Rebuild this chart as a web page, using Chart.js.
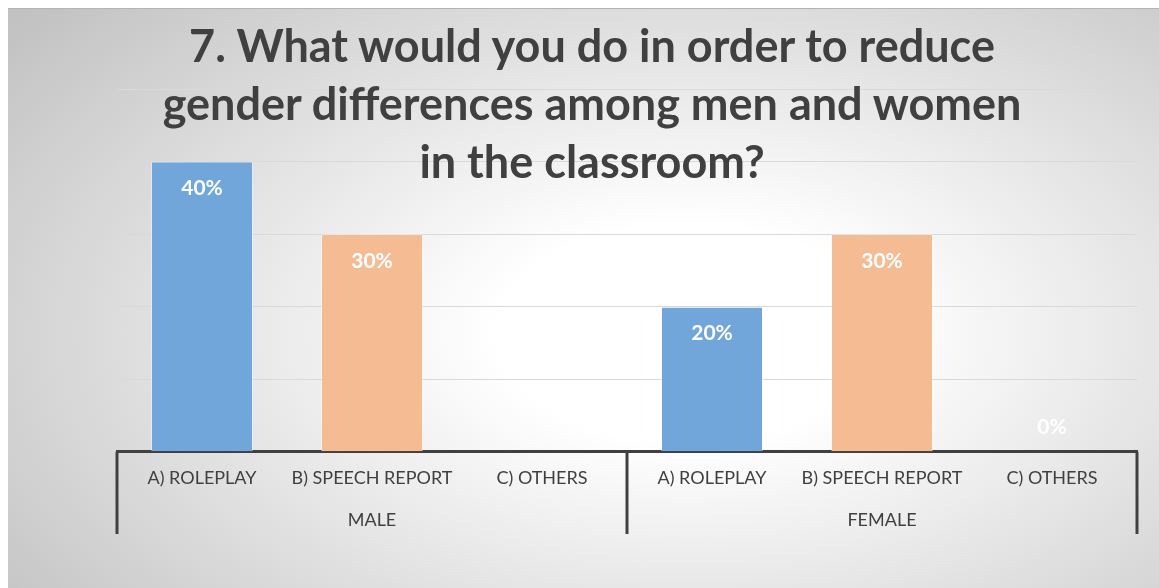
<!DOCTYPE html>
<html>
<head>
<meta charset="utf-8">
<script src="https://cdn.jsdelivr.net/npm/chart.js@4.4.1/dist/chart.umd.min.js"></script>
<style>
  html, body { margin: 0; padding: 0; background: #fff; }
  #wrap {
    position: absolute; left: 8px; top: 8px; width: 1151px; height: 580px;
    background: radial-gradient(ellipse 75% 85% at 59% 56%, #ffffff 0%, #ffffff 22%, #c2c2c2 100%);
    border-top: 1px solid #b4b4b4;
    box-sizing: border-box;
  }
  #chart { position: absolute; left: 0; top: 0; }
  #title {
    position: absolute; left: 0; top: 7px; width: 1168px; margin: 0;
    text-align: center; font-family: Lato, sans-serif; font-weight: 700;
    font-size: 45px; line-height: 58px; color: #404040; pointer-events: none;
  }
</style>
</head>
<body>
<div id="wrap">
  <canvas id="chart" width="1151" height="580"></canvas>
  <h1 id="title">7. What would you do in order to reduce<br>gender differences among men and women<br>in the classroom?</h1>
</div>
<script>
const categories = ["A) ROLEPLAY", "B) SPEECH REPORT", "C) OTHERS", "A) ROLEPLAY", "B) SPEECH REPORT", "C) OTHERS"];
const groups = ["MALE", "FEMALE"];
const percentages = [40, 30, null, 20, 30, 0];
const barColors = ["#70a6d9", "#f5bb93", "#a5a5a5", "#70a6d9", "#f5bb93", "#a5a5a5"];

// white percentage labels inside the top of each bar
const valueLabels = {
  id: "valueLabels",
  afterDatasetsDraw(chart) {
    const c = chart.ctx;
    const meta = chart.getDatasetMeta(0);
    c.save();
    c.font = "700 21px Lato";
    c.fillStyle = "#ffffff";
    c.textAlign = "center";
    c.textBaseline = "middle";
    meta.data.forEach((bar, i) => {
      const v = percentages[i];
      if (v === null) return;
      const y = v > 0 ? bar.y + 27 : bar.y - 25;
      c.fillText(v + "%", bar.x, y);
    });
    c.restore();
  }
};

// group separators under the category axis
const groupLines = {
  id: "groupLines",
  afterDraw(chart) {
    const x = chart.scales.x;
    const x2 = chart.scales.x2;
    const c = chart.ctx;
    const mid = (x.getPixelForValue(2) + x.getPixelForValue(3)) / 2;
    c.save();
    c.strokeStyle = "#404040";
    c.lineWidth = 3;
    [x.left, mid, x.right].forEach(px => {
      c.beginPath();
      c.moveTo(px, x.top);
      c.lineTo(px, x2.bottom - 1);
      c.stroke();
    });
    c.restore();
  }
};

new Chart(document.getElementById("chart"), {
  type: "bar",
  data: {
    labels: categories,
    datasets: [{
      data: percentages,
      backgroundColor: barColors,
      borderColor: "rgba(255,255,255,0.35)",
      borderWidth: 1,
      barPercentage: 0.6,
      categoryPercentage: 1
    }]
  },
  options: {
    responsive: false,
    devicePixelRatio: 1,
    animation: false,
    layout: { padding: { left: 109, right: 22, top: 80, bottom: 54 } },
    plugins: {
      legend: { display: false },
      tooltip: { enabled: false }
    },
    scales: {
      x: {
        grid: { display: false, drawTicks: false },
        border: { display: true, color: "#404040", width: 3 },
        ticks: { color: "#404040", font: { family: "Lato", size: 18 }, padding: 16, maxRotation: 0, autoSkip: false }
      },
      x2: {
        type: "category",
        labels: groups,
        position: "bottom",
        grid: { display: false, drawTicks: false },
        border: { display: false },
        ticks: { color: "#404040", font: { family: "Lato", size: 18 }, padding: 4 }
      },
      y: {
        min: 0,
        max: 50,
        ticks: { display: false, stepSize: 10 },
        grid: { color: "#d9d9d9", drawTicks: false },
        border: { display: false }
      }
    }
  },
  plugins: [valueLabels, groupLines]
});
</script>
</body>
</html>
